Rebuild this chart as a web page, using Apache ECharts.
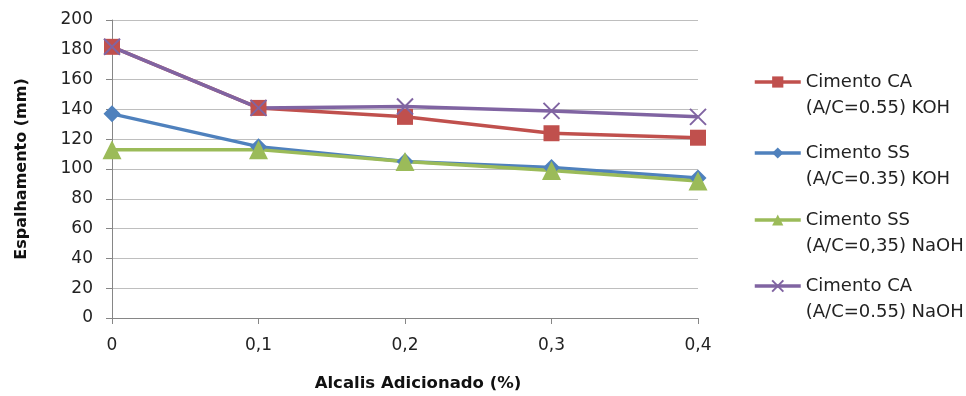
<!DOCTYPE html>
<html>
<head>
<meta charset="utf-8">
<script src="https://cdn.jsdelivr.net/npm/echarts@6/dist/echarts.min.js"></script>
<style>
  html, body { margin: 0; padding: 0; background: #fff; }
  #chart { width: 966px; height: 396px; }
</style>
</head>
<body>
<div id="chart"></div>
<script>
// Alkali content added (%)
const categories = ['0', '0,1', '0,2', '0,3', '0,4'];
const yTicks = { min: 0, max: 200, interval: 20 };

// Flow spread (mm) for each mix
const caKOH = [182, 141, 135, 124, 121];
const ssKOH = [137, 115, 105, 101, 94];
const ssNaOH = [113, 113, 105, 99, 92];
const caNaOH = [182, 141, 142, 139, 135];

const names = [
  'Cimento CA\n(A/C=0.55) KOH',
  'Cimento SS\n(A/C=0.35) KOH',
  'Cimento SS\n(A/C=0,35) NaOH',
  'Cimento CA\n(A/C=0.55) NaOH'
];
const colors = ['#C0504D', '#4F81BD', '#9BBB59', '#8064A2'];

const FONT = 'DejaVu Sans';
const crossPath = 'path://M0,0L10,10M10,0L0,10';

function makeSeries(i, data, symbol, size, extraItem) {
  return {
    name: names[i],
    type: 'line',
    data: data,
    symbol: symbol,
    symbolSize: size,
    showAllSymbol: true,
    lineStyle: { color: colors[i], width: 3.5 },
    itemStyle: Object.assign({ color: colors[i] }, extraItem || {}),
    emphasis: { disabled: true },
    animation: false
  };
}

// one legend block per series so the marker sits beside the first text line
const legendTops = [38, 109, 176, 242];
const legends = names.map((n, i) => ({
  data: [n],
  left: 748,
  top: legendTops[i],
  orient: 'vertical',
  itemWidth: 46,
  itemHeight: 14,
  itemGap: 0,
  lineStyle: { width: 3.5 },
  formatter: (name) => '\n' + name,
  textStyle: {
    fontFamily: FONT,
    fontSize: 18,
    color: '#222',
    lineHeight: 26
  }
}));

const chart = echarts.init(document.getElementById('chart'), null, { renderer: 'canvas' });
chart.setOption({
  backgroundColor: '#fff',
  animation: false,
  grid: { left: 112, right: 268, top: 20, bottom: 78, containLabel: false, outerBoundsMode: 'none' },
  legend: legends,
  xAxis: {
    type: 'category',
    data: categories,
    boundaryGap: false,
    name: 'Alcalis Adicionado (%)',
    nameLocation: 'middle',
    nameGap: 57,
    nameTextStyle: { fontFamily: FONT, fontSize: 16.5, fontWeight: 'bold', color: '#111', padding: [0, 0, 0, 26] },
    axisLine: { lineStyle: { color: '#868686', width: 1 } },
    axisTick: { show: true, alignWithLabel: true, length: 6, lineStyle: { color: '#868686' } },
    axisLabel: { fontFamily: FONT, fontSize: 17, color: '#222', margin: 19 },
    splitLine: { show: false }
  },
  yAxis: {
    type: 'value',
    min: yTicks.min,
    max: yTicks.max,
    interval: yTicks.interval,
    name: 'Espalhamento (mm)',
    nameLocation: 'middle',
    nameRotate: 90,
    nameGap: 82,
    nameTextStyle: { fontFamily: FONT, fontSize: 16, fontWeight: 'bold', color: '#111' },
    axisLine: { show: true, lineStyle: { color: '#868686', width: 1 } },
    axisTick: { show: true, length: 6, lineStyle: { color: '#868686' } },
    axisLabel: { fontFamily: FONT, fontSize: 17, color: '#222', margin: 19 },
    splitLine: { show: true, lineStyle: { color: '#BEBEBE', width: 1 } }
  },
  series: [
    makeSeries(0, caKOH, 'rect', 16),
    makeSeries(1, ssKOH, 'diamond', 17),
    makeSeries(2, ssNaOH, 'triangle', 19),
    makeSeries(3, caNaOH, crossPath, 16, { borderColor: colors[3], borderWidth: 2 })
  ]
});
</script>
</body>
</html>
